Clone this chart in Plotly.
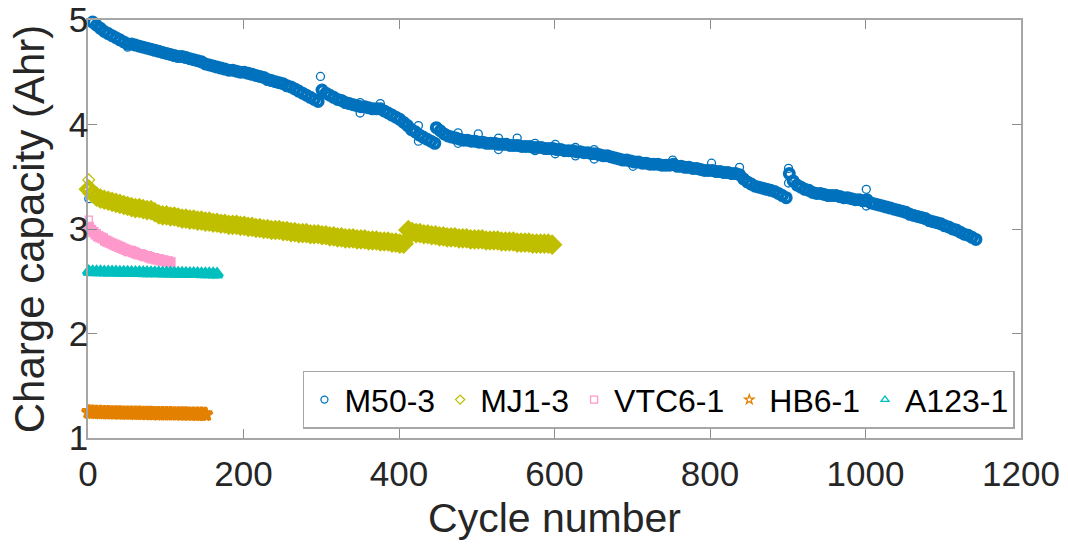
import plotly.graph_objects as go

# ---- Charge capacity per cycle, sampled every few cycles ----
# M50-3 (four test segments separated by rest/check-up breaks)
m50_start = [1, 301, 448, 902]
m50_step = 5
m50_seg1 = [5.02, 4.98, 4.95, 4.92, 4.89, 4.87, 4.85, 4.83, 4.81, 4.79,
            4.77, 4.77, 4.76, 4.75, 4.74, 4.73, 4.72, 4.71, 4.70, 4.69,
            4.68, 4.67, 4.66, 4.65, 4.65, 4.64, 4.63, 4.62, 4.61, 4.60,
            4.58, 4.57, 4.56, 4.55, 4.54, 4.53, 4.52, 4.52, 4.51, 4.50,
            4.50, 4.49, 4.48, 4.47, 4.46, 4.45, 4.43, 4.42, 4.41, 4.40,
            4.39, 4.37, 4.36, 4.34, 4.32, 4.30, 4.28, 4.26, 4.24, 4.22]
m50_seg2 = [4.33, 4.30, 4.28, 4.26, 4.24, 4.23, 4.21, 4.20, 4.19, 4.18,
            4.17, 4.17, 4.16, 4.15, 4.15, 4.15, 4.13, 4.11, 4.09, 4.07,
            4.05, 4.02, 3.99, 3.95, 3.93, 3.90, 3.88, 3.86, 3.84, 3.82]
m50_seg3 = [3.97, 3.94, 3.91, 3.89, 3.88, 3.87, 3.86, 3.85, 3.85, 3.84,
            3.84, 3.83, 3.83, 3.82, 3.82, 3.82, 3.81, 3.81, 3.81, 3.80,
            3.80, 3.80, 3.79, 3.79, 3.79, 3.78, 3.78, 3.78, 3.77, 3.77,
            3.77, 3.76, 3.76, 3.75, 3.75, 3.75, 3.74, 3.74, 3.73, 3.73,
            3.72, 3.72, 3.71, 3.70, 3.70, 3.69, 3.68, 3.67, 3.66, 3.66,
            3.65, 3.64, 3.64, 3.63, 3.63, 3.62, 3.62, 3.62, 3.61, 3.61,
            3.61, 3.62, 3.60, 3.60, 3.59, 3.59, 3.58, 3.58, 3.57, 3.56,
            3.56, 3.56, 3.55, 3.55, 3.54, 3.54, 3.53, 3.53, 3.52, 3.48,
            3.45, 3.43, 3.41, 3.40, 3.39, 3.38, 3.37, 3.36, 3.34, 3.32,
            3.30]
m50_seg4 = [3.53, 3.46, 3.42, 3.40, 3.38, 3.37, 3.35, 3.34, 3.34, 3.33,
            3.32, 3.32, 3.32, 3.31, 3.30, 3.30, 3.29, 3.28, 3.28, 3.27,
            3.28, 3.25, 3.24, 3.23, 3.22, 3.21, 3.20, 3.19, 3.18, 3.17,
            3.16, 3.14, 3.13, 3.12, 3.11, 3.10, 3.08, 3.07, 3.06, 3.05,
            3.03, 3.02, 3.00, 2.99, 2.97, 2.95, 2.94, 2.92, 2.90]
# isolated readings (first cycle of each check-up)
m50_out_cycle = [1, 51, 299, 350, 350, 376, 425, 425, 449, 476, 476, 502, 502,
                 528, 528, 552, 575, 575, 601, 601, 627, 627, 651, 651, 701,
                 752, 802, 838, 901, 901, 1001, 1001]
m50_out_cap = [3.29, 4.74, 4.46, 4.21, 4.11, 4.20, 3.99, 3.84, 3.98, 3.92, 3.82,
               3.91, 3.83, 3.87, 3.76, 3.87, 3.82, 3.75, 3.81, 3.72, 3.78, 3.70,
               3.76, 3.67, 3.60, 3.66, 3.63, 3.59, 3.58, 3.44, 3.38, 3.22]

# MJ1-3 (two segments)
mj1_start = [1, 412]
mj1_step = 5
mj1_seg1 = [3.38, 3.34, 3.31, 3.29, 3.28, 3.27, 3.26, 3.25, 3.24, 3.23,
            3.22, 3.21, 3.20, 3.20, 3.19, 3.18, 3.18, 3.16, 3.14, 3.13,
            3.13, 3.12, 3.12, 3.11, 3.10, 3.10, 3.09, 3.09, 3.08, 3.08,
            3.07, 3.07, 3.06, 3.06, 3.05, 3.05, 3.04, 3.04, 3.04, 3.03,
            3.03, 3.02, 3.02, 3.01, 3.01, 3.00, 3.00, 2.99, 2.99, 2.99,
            2.98, 2.98, 2.97, 2.97, 2.96, 2.96, 2.96, 2.95, 2.95, 2.95,
            2.94, 2.94, 2.93, 2.93, 2.92, 2.92, 2.91, 2.91, 2.91, 2.90,
            2.90, 2.90, 2.89, 2.89, 2.89, 2.88, 2.88, 2.88, 2.87, 2.87,
            2.86, 2.86]
mj1_seg2 = [2.99, 2.97, 2.96, 2.96, 2.95, 2.95, 2.94, 2.94, 2.93, 2.93,
            2.92, 2.92, 2.92, 2.91, 2.91, 2.91, 2.90, 2.90, 2.90, 2.90,
            2.89, 2.89, 2.89, 2.89, 2.88, 2.88, 2.88, 2.88, 2.87, 2.87,
            2.87, 2.87, 2.86, 2.86, 2.86, 2.86, 2.86, 2.85]
mj1_out_cycle = [1]
mj1_out_cap = [3.47]

# VTC6-1
vtc6_start = 1
vtc6_step = 3
vtc6_cap = [3.02, 2.99, 2.97, 2.95, 2.93, 2.92, 2.91, 2.89, 2.88, 2.87,
            2.86, 2.85, 2.84, 2.83, 2.82, 2.81, 2.80, 2.79, 2.79, 2.78,
            2.77, 2.76, 2.76, 2.75, 2.74, 2.74, 2.73, 2.72, 2.72, 2.71,
            2.71, 2.70, 2.70, 2.69, 2.69, 2.68]
vtc6_out_cycle = [1]
vtc6_out_cap = [3.09]

# HB6-1
hb6_start = 1
hb6_step = 5
hb6_cap = [1.250, 1.248, 1.246, 1.245, 1.244, 1.243, 1.242, 1.242, 1.241, 1.240,
           1.240, 1.239, 1.238, 1.238, 1.237, 1.236, 1.236, 1.235, 1.234, 1.234,
           1.233, 1.233, 1.232, 1.232, 1.231, 1.231, 1.230, 1.230, 1.229, 1.229,
           1.228]
hb6_out_cycle = [153]
hb6_out_cap = [1.222]

# A123-1
a123_start = 1
a123_step = 5
a123_cap = [2.590, 2.589, 2.588, 2.588, 2.587, 2.586, 2.586, 2.585, 2.584, 2.584,
            2.583, 2.582, 2.582, 2.581, 2.580, 2.580, 2.579, 2.578, 2.578, 2.577,
            2.576, 2.576, 2.575, 2.574, 2.574, 2.573, 2.572, 2.572, 2.571, 2.570,
            2.570, 2.569, 2.568, 2.567]

# ---- styling ----
C_M50 = "#0072BD"
C_MJ1 = "#BFBF00"
C_VTC6 = "#FF99CC"
C_HB6 = "#E38000"
C_A123 = "#00BFBF"
FONT = "Liberation Sans, Arial, Helvetica, sans-serif"
TEXT = "#262626"


def cycles(start, step, n):
    return list(range(start, start + step * n, step))


fig = go.Figure()


def band(x, y, color, symbol, size, lw):
    fig.add_trace(go.Scatter(
        x=x, y=y, mode="markers", showlegend=False, cliponaxis=False,
        hoverinfo="skip",
        marker=dict(symbol=symbol, size=size, color=color,
                    line=dict(color=color, width=lw))))


def single(x, y, color, symbol, size):
    fig.add_trace(go.Scatter(
        x=x, y=y, mode="markers", showlegend=False, cliponaxis=False,
        marker=dict(symbol=symbol, size=size, color=color,
                    line=dict(color=color, width=1.3))))


# M50-3
for s, seg in zip(m50_start, [m50_seg1, m50_seg2, m50_seg3, m50_seg4]):
    band(cycles(s, m50_step, len(seg)), seg, C_M50, "circle-open", 9, 4)
single(m50_out_cycle, m50_out_cap, C_M50, "circle-open", 8)

# MJ1-3
for s, seg in zip(mj1_start, [mj1_seg1, mj1_seg2]):
    band(cycles(s, mj1_step, len(seg)), seg, C_MJ1, "diamond-open", 11, 4.5)
single(mj1_out_cycle, mj1_out_cap, C_MJ1, "diamond-open", 9)

# VTC6-1
band(cycles(vtc6_start, vtc6_step, len(vtc6_cap)), vtc6_cap, C_VTC6,
     "square-open", 7, 3.4)
single(vtc6_out_cycle, vtc6_out_cap, C_VTC6, "square-open", 7)

# HB6-1
band(cycles(hb6_start, hb6_step, len(hb6_cap)), hb6_cap, C_HB6,
     "star-open", 10, 3.5)
single(hb6_out_cycle, hb6_out_cap, C_HB6, "star-open", 9)

# A123-1
band(cycles(a123_start, a123_step, len(a123_cap)), a123_cap, C_A123,
     "triangle-up-open", 9, 4)

# legend entries
for name, color, sym in [("M50-3", C_M50, "circle-open"),
                         ("MJ1-3", C_MJ1, "diamond-open"),
                         ("VTC6-1", C_VTC6, "square-open"),
                         ("HB6-1", C_HB6, "star-open"),
                         ("A123-1", C_A123, "triangle-up-open")]:
    fig.add_trace(go.Scatter(
        x=[None], y=[None], mode="markers", name=name,
        marker=dict(symbol=sym, size=7, color=color,
                    line=dict(color=color, width=1.3))))

axis_common = dict(
    showgrid=False, zeroline=False, showline=True, linecolor="#A6A6A6",
    linewidth=1.5, mirror="ticks", ticks="inside", ticklen=9, tickwidth=1.2,
    tickcolor="#8C8C8C", tickfont=dict(family=FONT, size=35, color=TEXT),
    automargin=False,
)

fig.update_layout(
    width=1068, height=545,
    margin=dict(l=88, r=47, t=20, b=107),
    paper_bgcolor="white", plot_bgcolor="white",
    font=dict(family=FONT, color=TEXT),
    xaxis=dict(range=[0, 1200], tickvals=[0, 200, 400, 600, 800, 1000, 1200],
               title=dict(text="Cycle number",
                          font=dict(family=FONT, size=41, color=TEXT),
                          standoff=12),
               ticklabelstandoff=4, **axis_common),
    yaxis=dict(range=[1, 5], tickvals=[1, 2, 3, 4, 5],
               title=dict(text="Charge capacity (Ahr)",
                          font=dict(family=FONT, size=42, color=TEXT),
                          standoff=11),
               ticklabelstandoff=-9, **axis_common),
    legend=dict(orientation="h", x=0.9935, xanchor="right", y=0.022,
                yanchor="bottom", bgcolor="white", bordercolor="#A6A6A6",
                borderwidth=1.5, font=dict(family=FONT, size=32, color="black"),
                itemsizing="trace", tracegroupgap=0),
)

fig.write_html("out.html")
